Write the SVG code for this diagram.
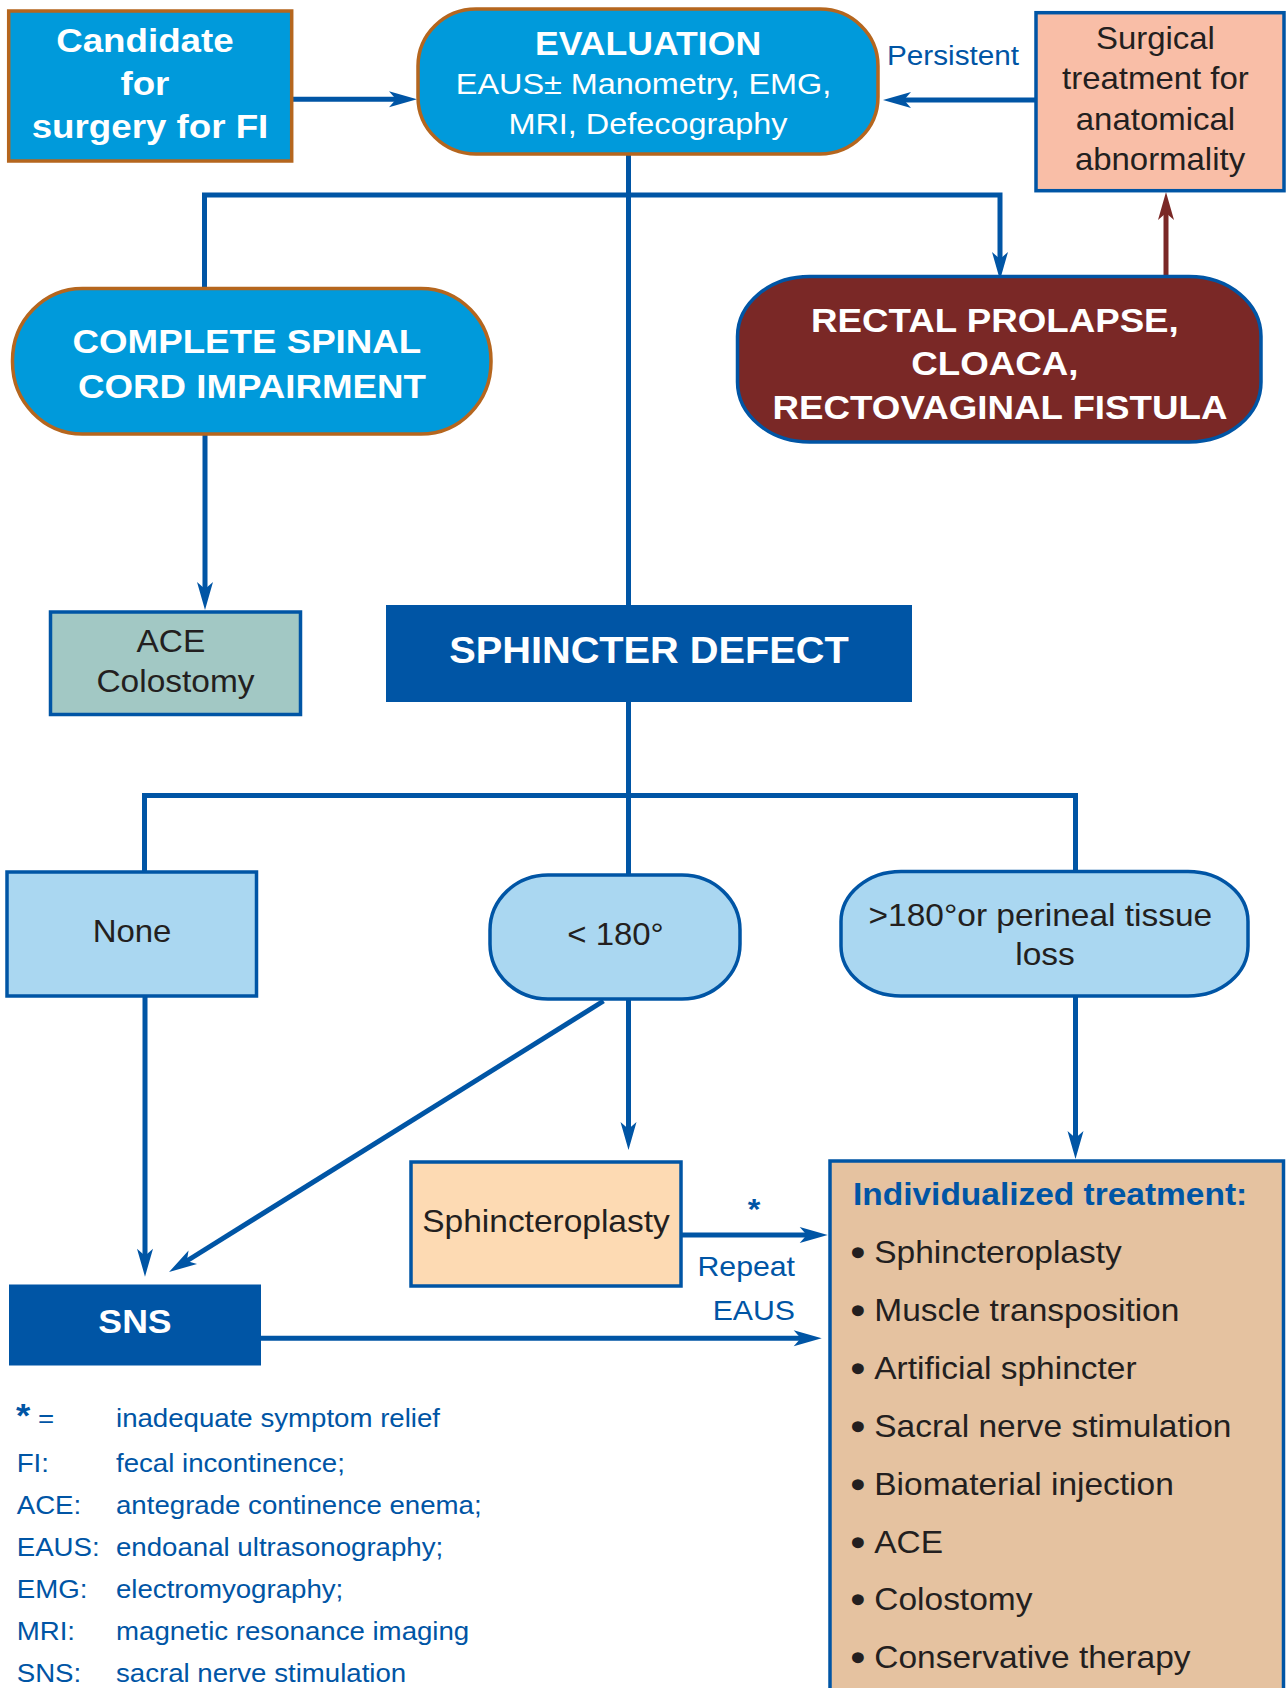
<svg xmlns="http://www.w3.org/2000/svg" width="1288" height="1688" viewBox="0 0 1288 1688">
  <style>
    text { font-family: "Liberation Sans", Arial, Helvetica, sans-serif; }
    .hd { font-weight: bold; fill: #ffffff; }
    .dk { fill: #231F20; }
    .bl { fill: #0055A5; }
    .b { font-weight: bold; }
    .wire { fill: none; stroke: #0055A5; stroke-width: 5; }
    .box-cyan { fill: #009ADB; stroke: #B5661E; stroke-width: 3.5; }
    .box-line { stroke: #0055A5; stroke-width: 3.5; }
  </style>
  <defs>
    <!-- notched arrowhead; the path end sits 18px behind the tip -->
    <marker id="arrow" markerUnits="userSpaceOnUse" markerWidth="32" markerHeight="20" viewBox="-12 -10 32 20" refX="0" refY="0" orient="auto" overflow="visible">
      <path d="M18,0 L-10,-8 L-3,0 L-10,8 Z" fill="#0055A5"/>
    </marker>
    <marker id="arrow-red" markerUnits="userSpaceOnUse" markerWidth="32" markerHeight="20" viewBox="-12 -10 32 20" refX="0" refY="0" orient="auto" overflow="visible">
      <path d="M18,0 L-10,-8 L-3,0 L-10,8 Z" fill="#7A2826"/>
    </marker>
  </defs>

  <rect width="1288" height="1688" fill="#ffffff"/>

  <!-- connectors -->
  <g id="connectors">
    <path class="wire" d="M292,99.3 H399" marker-end="url(#arrow)"/>
    <path class="wire" d="M1036,100 H901" marker-end="url(#arrow)"/>
    <path fill="none" stroke="#7A2826" stroke-width="5" d="M1166,276 V210" marker-end="url(#arrow-red)"/>
    <path class="wire" d="M628.5,154 V605"/>
    <path class="wire" d="M204.5,288 V195 H1000 V262" marker-end="url(#arrow)"/>
    <path class="wire" d="M205,434 V592" marker-end="url(#arrow)"/>
    <path class="wire" d="M628.5,702 V875"/>
    <path class="wire" d="M144.5,872 V795.5 H1075.5 V871"/>
    <path class="wire" d="M145,996 V1258.7" marker-end="url(#arrow)"/>
    <path class="wire" stroke-width="5.5" d="M603.5,1001 L184.3,1262.5" marker-end="url(#arrow)"/>
    <path class="wire" d="M628.5,999 V1132" marker-end="url(#arrow)"/>
    <path class="wire" d="M1075.5,996 V1141" marker-end="url(#arrow)"/>
    <path class="wire" stroke-width="6" d="M681,1235 H809.7" marker-end="url(#arrow)"/>
    <path class="wire" d="M261,1338.3 H803.7" marker-end="url(#arrow)"/>
  </g>

  <!-- edge labels -->
  <g id="labels">
    <text class="bl" font-size="27.5" text-anchor="middle" transform="translate(953,65) scale(1.08,1)">Persistent</text>
    <text class="bl b" font-size="30" text-anchor="middle" transform="translate(754,1219) scale(1.08,1)">*</text>
    <text class="bl" font-size="28" text-anchor="end" transform="translate(795,1275.7) scale(1.08,1)">Repeat</text>
    <text class="bl" font-size="28" text-anchor="end" transform="translate(795,1320) scale(1.08,1)">EAUS</text>
  </g>

  <g id="candidate">
    <rect class="box-cyan" x="8.7" y="11" width="283" height="150"/>
    <text class="hd" font-size="34" text-anchor="middle" transform="translate(150,51.7) scale(1.08,1)">
      <tspan x="0" y="0">Candidate</tspan>
      <tspan x="0" y="43.3">for</tspan>
      <tspan x="0" y="86">surgery for FI</tspan>
    </text>
  </g>

  <g id="evaluation">
    <rect class="box-cyan" x="418" y="9" width="460" height="145" rx="58" ry="57"/>
    <text class="hd" font-size="33" text-anchor="middle" transform="translate(648,55) scale(1.08,1)">EVALUATION</text>
    <text fill="#ffffff" font-size="30" text-anchor="middle" transform="translate(648,94) scale(1.08,1)">
      <tspan x="0" y="0">EAUS± Manometry, EMG,</tspan>
      <tspan x="0" y="40.5">MRI, Defecography</tspan>
    </text>
  </g>

  <g id="surgical-treatment">
    <rect class="box-line" fill="#F9BEA7" x="1036" y="12.7" width="248" height="178"/>
    <text class="dk" font-size="30.5" text-anchor="middle" transform="translate(1160,49) scale(1.08,1)">
      <tspan x="0" y="0">Surgical</tspan>
      <tspan x="0" y="40.5">treatment for</tspan>
      <tspan x="0" y="81">anatomical</tspan>
      <tspan x="0" y="121.5">abnormality</tspan>
    </text>
  </g>

  <g id="spinal-cord">
    <rect class="box-cyan" x="12.5" y="288.5" width="478.5" height="145.5" rx="70" ry="72"/>
    <text class="hd" font-size="34" text-anchor="middle" transform="translate(252,353) scale(1.08,1)">
      <tspan x="0" y="0">COMPLETE SPINAL</tspan>
      <tspan x="0" y="44.7">CORD IMPAIRMENT</tspan>
    </text>
  </g>

  <g id="rectal-prolapse">
    <rect class="box-line" fill="#7A2826" x="737.5" y="276.5" width="523.5" height="165.5" rx="72" ry="60"/>
    <text class="hd" font-size="34" text-anchor="middle" transform="translate(1000,331.7) scale(1.08,1)">
      <tspan x="0" y="0">RECTAL PROLAPSE,</tspan>
      <tspan x="0" y="43.5">CLOACA,</tspan>
      <tspan x="0" y="87.3">RECTOVAGINAL FISTULA</tspan>
    </text>
  </g>

  <g id="ace-colostomy">
    <rect class="box-line" fill="#A2C8C4" x="50.5" y="612" width="250" height="102.5"/>
    <text class="dk" font-size="31" text-anchor="middle" transform="translate(175.5,651.7) scale(1.08,1)">
      <tspan x="0" y="0">ACE</tspan>
      <tspan x="0" y="40">Colostomy</tspan>
    </text>
  </g>

  <g id="sphincter-defect">
    <rect fill="#0055A5" x="386" y="605" width="526" height="97"/>
    <text class="hd" font-size="36.8" text-anchor="middle" transform="translate(649,663) scale(1.08,1)">SPHINCTER DEFECT</text>
  </g>

  <g id="none">
    <rect class="box-line" fill="#AAD7F1" x="7" y="872" width="249.5" height="124"/>
    <text class="dk" font-size="30.5" text-anchor="middle" transform="translate(132,941.7) scale(1.08,1)">None</text>
  </g>

  <g id="less-180">
    <rect class="box-line" fill="#AAD7F1" x="490" y="875" width="250" height="124" rx="58" ry="55"/>
    <text class="dk" font-size="30.5" text-anchor="middle" transform="translate(615.5,945) scale(1.08,1)">&lt; 180°</text>
  </g>

  <g id="more-180">
    <rect class="box-line" fill="#AAD7F1" x="841" y="871.5" width="407" height="124.5" rx="60" ry="50"/>
    <text class="dk" font-size="31" text-anchor="middle" transform="translate(1045,925.7) scale(1.08,1)">
      <tspan x="0" y="0">&gt;180°or perineal tissue</tspan>
      <tspan x="0" y="39.3">loss</tspan>
    </text>
  </g>

  <g id="sphincteroplasty">
    <rect class="box-line" fill="#FDDAB3" x="411" y="1162" width="270" height="124"/>
    <text class="dk" font-size="31" text-anchor="middle" transform="translate(546,1231.7) scale(1.08,1)">Sphincteroplasty</text>
  </g>

  <g id="sns">
    <rect fill="#0055A5" x="9" y="1284.5" width="252" height="81"/>
    <text class="hd" font-size="33" text-anchor="middle" transform="translate(135,1333) scale(1.08,1)">SNS</text>
  </g>

  <g id="individualized-treatment">
    <rect class="box-line" fill="#E5C2A0" x="830" y="1161" width="453.5" height="545"/>
    <text class="bl b" font-size="31" transform="translate(853,1204.7) scale(1.08,1)">Individualized treatment:</text>
    <g class="dk" font-size="31">
      <g stroke="#231F20" stroke-width="2.5">
        <text transform="translate(852,1262.5) scale(1.08,1)">•</text>
        <text transform="translate(852,1320.5) scale(1.08,1)">•</text>
        <text transform="translate(852,1378.7) scale(1.08,1)">•</text>
        <text transform="translate(852,1437) scale(1.08,1)">•</text>
        <text transform="translate(852,1495) scale(1.08,1)">•</text>
        <text transform="translate(852,1552.6) scale(1.08,1)">•</text>
        <text transform="translate(852,1610) scale(1.08,1)">•</text>
        <text transform="translate(852,1668) scale(1.08,1)">•</text>
      </g>
      <text transform="translate(874.3,1262.5) scale(1.08,1)">Sphincteroplasty</text>
      <text transform="translate(874.3,1320.5) scale(1.08,1)">Muscle transposition</text>
      <text transform="translate(874.3,1378.7) scale(1.08,1)">Artificial sphincter</text>
      <text transform="translate(874.3,1437) scale(1.08,1)">Sacral nerve stimulation</text>
      <text transform="translate(874.3,1495) scale(1.08,1)">Biomaterial injection</text>
      <text transform="translate(874.3,1552.6) scale(1.08,1)">ACE</text>
      <text transform="translate(874.3,1610) scale(1.08,1)">Colostomy</text>
      <text transform="translate(874.3,1668) scale(1.08,1)">Conservative therapy</text>
    </g>
  </g>

  <!-- abbreviations -->
  <g id="legend" class="bl" font-size="25.6">
    <text class="b" font-size="34" transform="translate(16,1426.5) scale(1.08,1)">*</text>
    <text transform="translate(38,1426.5) scale(1.08,1)">=</text>
    <text transform="translate(16.7,1472) scale(1.08,1)">FI:</text>
    <text transform="translate(16.7,1514.3) scale(1.08,1)">ACE:</text>
    <text transform="translate(16.7,1556.3) scale(1.08,1)">EAUS:</text>
    <text transform="translate(16.7,1598.3) scale(1.08,1)">EMG:</text>
    <text transform="translate(16.7,1640.3) scale(1.08,1)">MRI:</text>
    <text transform="translate(16.7,1682.3) scale(1.08,1)">SNS:</text>
    <text transform="translate(116,1426.7) scale(1.08,1)">inadequate symptom relief</text>
    <text transform="translate(116,1472) scale(1.08,1)">fecal incontinence;</text>
    <text transform="translate(116,1514.3) scale(1.08,1)">antegrade continence enema;</text>
    <text transform="translate(116,1556.3) scale(1.08,1)">endoanal ultrasonography;</text>
    <text transform="translate(116,1598.3) scale(1.08,1)">electromyography;</text>
    <text transform="translate(116,1640.3) scale(1.08,1)">magnetic resonance imaging</text>
    <text transform="translate(116,1682.3) scale(1.08,1)">sacral nerve stimulation</text>
  </g>
</svg>
